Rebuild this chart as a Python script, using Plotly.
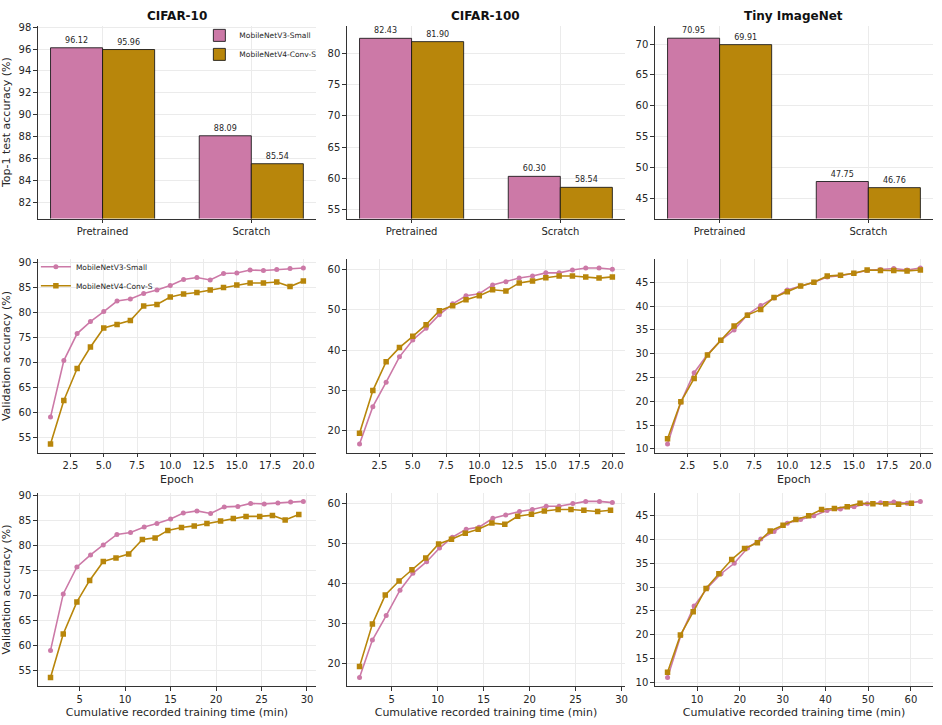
import plotly.graph_objects as go

# ---------------- data ----------------
datasets = ["CIFAR-10", "CIFAR-100", "Tiny ImageNet"]
models = ["MobileNetV3-Small", "MobileNetV4-Conv-S"]
bar_cats = ["Pretrained", "Scratch"]

test_v3 = {"CIFAR-10": [96.12, 88.09], "CIFAR-100": [82.43, 60.30], "Tiny ImageNet": [70.95, 47.75]}
test_v4 = {"CIFAR-10": [95.96, 85.54], "CIFAR-100": [81.90, 58.54], "Tiny ImageNet": [69.91, 46.76]}

epochs = list(range(1, 21))

val_v3 = {
    "CIFAR-10": [59.1, 70.4, 75.8, 78.2, 80.2, 82.3, 82.7, 83.8, 84.5, 85.4,
                 86.6, 87.0, 86.5, 87.8, 87.9, 88.5, 88.4, 88.6, 88.8, 88.9],
    "CIFAR-100": [16.6, 25.9, 32.0, 38.3, 42.5, 45.4, 48.8, 51.5, 53.5, 54.0,
                  56.2, 57.0, 57.9, 58.4, 59.2, 59.2, 59.9, 60.4, 60.4, 60.1],
    "Tiny ImageNet": [11.0, 19.8, 26.0, 29.8, 32.8, 35.0, 38.2, 40.1, 41.7, 43.4,
                      44.2, 45.0, 46.1, 46.4, 46.9, 47.5, 47.7, 47.9, 47.6, 48.0],
}
val_v4 = {
    "CIFAR-10": [53.7, 62.4, 68.8, 73.1, 76.9, 77.6, 78.4, 81.3, 81.6, 83.1,
                 83.7, 84.0, 84.5, 85.0, 85.5, 85.9, 85.9, 86.1, 85.2, 86.3],
    "CIFAR-100": [19.3, 29.9, 37.1, 40.6, 43.4, 46.3, 49.8, 51.0, 52.5, 53.5,
                  55.0, 54.7, 56.7, 57.2, 58.0, 58.4, 58.4, 58.2, 57.9, 58.2],
    "Tiny ImageNet": [12.1, 19.9, 24.8, 29.7, 32.8, 35.8, 38.1, 39.3, 41.8, 43.0,
                      44.2, 45.0, 46.3, 46.5, 46.9, 47.6, 47.5, 47.5, 47.4, 47.6],
}

time_v3 = {
    "CIFAR-10": [1.8, 3.2, 4.7, 6.2, 7.6, 9.1, 10.6, 12.1, 13.5, 15.0,
                 16.4, 17.9, 19.4, 20.9, 22.4, 23.8, 25.3, 26.8, 28.2, 29.6],
    "CIFAR-100": [1.5, 2.9, 4.4, 5.9, 7.3, 8.8, 10.2, 11.6, 13.1, 14.5,
                  16.0, 17.4, 18.9, 20.3, 21.8, 23.2, 24.7, 26.1, 27.6, 29.0],
    "Tiny ImageNet": [3.1, 6.2, 9.3, 12.4, 15.6, 18.7, 21.8, 24.9, 28.0, 31.1,
                      34.2, 37.3, 40.4, 43.5, 46.7, 49.8, 52.9, 56.0, 59.1, 62.2],
}
time_v4 = {
    "CIFAR-10": [1.8, 3.2, 4.7, 6.1, 7.6, 9.0, 10.4, 11.9, 13.3, 14.7,
                 16.2, 17.6, 19.0, 20.5, 21.9, 23.3, 24.8, 26.2, 27.6, 29.1],
    "CIFAR-100": [1.5, 2.9, 4.3, 5.8, 7.2, 8.7, 10.1, 11.5, 13.0, 14.4,
                  15.9, 17.3, 18.7, 20.2, 21.6, 23.1, 24.5, 25.9, 27.4, 28.8],
    "Tiny ImageNet": [3.1, 6.1, 9.1, 12.1, 15.1, 18.1, 21.1, 24.1, 27.1, 30.1,
                      33.1, 36.1, 39.1, 42.1, 45.1, 48.1, 51.1, 54.1, 57.1, 60.1],
}

top_yticks = {"CIFAR-10": list(range(82, 99, 2)), "CIFAR-100": list(range(55, 81, 5)),
              "Tiny ImageNet": list(range(45, 71, 5))}
val_yticks = {"CIFAR-10": list(range(55, 91, 5)), "CIFAR-100": list(range(20, 61, 10)),
              "Tiny ImageNet": list(range(10, 46, 5))}
epoch_ticks = [2.5, 5.0, 7.5, 10.0, 12.5, 15.0, 17.5, 20.0]
time_ticks = {"CIFAR-10": [5, 10, 15, 20, 25, 30], "CIFAR-100": [5, 10, 15, 20, 25, 30],
              "Tiny ImageNet": [10, 20, 30, 40, 50, 60]}

# ---------------- style ----------------
C3 = "#CC79A7"
C4 = "#B8860B"
FONT = "DejaVu Sans"
W, H = 942, 725
col_px = [(38, 317), (348, 627), (657, 936)]
row_px = [(22, 216), (257, 452), (492, 687)]


def xd(c):
    return [col_px[c][0] / W, col_px[c][1] / W]


def yd(r):
    return [1 - row_px[r][1] / H, 1 - row_px[r][0] / H]


def mpl_range(vals, m=0.05):
    lo, hi = min(vals), max(vals)
    d = (hi - lo) * m
    return [lo - d, hi + d]


fig = go.Figure()
layout = {}

axis_common = dict(
    showline=True, linecolor="#333333", linewidth=1.2, mirror=False,
    ticks="outside", ticklen=3.5, tickwidth=1, tickcolor="#333333",
    showgrid=True, gridcolor="#ebebeb", gridwidth=1, zeroline=False,
    tickfont=dict(family=FONT, size=10, color="#262626"),
)

n = 0
for r in range(3):
    for c, ds in enumerate(datasets):
        n += 1
        xa = "xaxis" if n == 1 else f"xaxis{n}"
        ya = "yaxis" if n == 1 else f"yaxis{n}"
        xr = "x" if n == 1 else f"x{n}"
        yr = "y" if n == 1 else f"y{n}"
        xax = dict(axis_common, domain=xd(c), anchor=yr)
        yax = dict(axis_common, domain=yd(r), anchor=xr)
        if r == 0:
            for vals, name, col in [(test_v3[ds], models[0], C3), (test_v4[ds], models[1], C4)]:
                fig.add_trace(go.Bar(
                    x=bar_cats, y=vals, name=name, xaxis=xr, yaxis=yr,
                    marker=dict(color=col, line=dict(color="rgba(20,20,20,0.85)", width=1)),
                    texttemplate="%{y:.2f}", textposition="outside", cliponaxis=False,
                    textfont=dict(family=FONT, size=8, color="#262626"),
                    showlegend=(c == 0), legend="legend",
                ))
            allv = test_v3[ds] + test_v4[ds]
            yax.update(range=[min(allv) - 5, max(allv) + 2], tickvals=top_yticks[ds])
            xax.update(type="category", range=[-0.435, 1.435])
            if c == 0:
                yax["title"] = dict(text="Top-1 test accuracy (%)",
                                    font=dict(family=FONT, size=11, color="#262626"), standoff=6)
        else:
            if r == 1:
                x3, x4 = epochs, epochs
                xax.update(range=mpl_range(epochs), tickvals=epoch_ticks,
                           ticktext=[f"{t:.1f}" for t in epoch_ticks])
                xt = "Epoch"
            else:
                x3, x4 = time_v3[ds], time_v4[ds]
                xax.update(range=mpl_range(x3 + x4), tickvals=time_ticks[ds])
                xt = "Cumulative recorded training time (min)"
            xax["title"] = dict(text=xt, font=dict(family=FONT, size=11, color="#262626"), standoff=4)
            fig.add_trace(go.Scatter(
                x=x3, y=val_v3[ds], name=models[0], mode="lines+markers", xaxis=xr, yaxis=yr,
                line=dict(color=C3, width=1.6), marker=dict(symbol="circle", size=5, color=C3),
                showlegend=(r == 1 and c == 0), legend="legend2",
            ))
            fig.add_trace(go.Scatter(
                x=x4, y=val_v4[ds], name=models[1], mode="lines+markers", xaxis=xr, yaxis=yr,
                line=dict(color=C4, width=1.6), marker=dict(symbol="square", size=5.5, color=C4),
                showlegend=(r == 1 and c == 0), legend="legend2",
            ))
            yax.update(range=mpl_range(val_v3[ds] + val_v4[ds]), tickvals=val_yticks[ds])
            if c == 0:
                yax["title"] = dict(text="Validation accuracy (%)",
                                    font=dict(family=FONT, size=11, color="#262626"), standoff=6)
        layout[xa] = xax
        layout[ya] = yax

annotations = []
for c, ds in enumerate(datasets):
    annotations.append(dict(
        text=f"<b>{ds}</b>", x=sum(xd(c)) / 2, y=1 - 12 / H, xref="paper", yref="paper",
        xanchor="center", yanchor="middle", showarrow=False,
        font=dict(family=FONT, size=12, color="#111111"),
    ))

fig.update_layout(
    **layout,
    width=W, height=H,
    margin=dict(l=0, r=0, t=0, b=0),
    paper_bgcolor="white", plot_bgcolor="white",
    barmode="group", bargap=0.3, bargroupgap=0,
    font=dict(family=FONT, size=10, color="#262626"),
    annotations=annotations,
    legend=dict(x=200 / W, y=1 - 17 / H, xanchor="left", yanchor="top",
                bgcolor="rgba(255,255,255,0)", font=dict(family=FONT, size=7.5, color="#262626"),
                itemwidth=30, tracegroupgap=0),
    legend2=dict(x=36 / W, y=1 - 250 / H, xanchor="left", yanchor="top",
                 bgcolor="rgba(255,255,255,0)", font=dict(family=FONT, size=7.5, color="#262626"),
                 itemwidth=30, tracegroupgap=0),
)

fig.write_html("out.html")
